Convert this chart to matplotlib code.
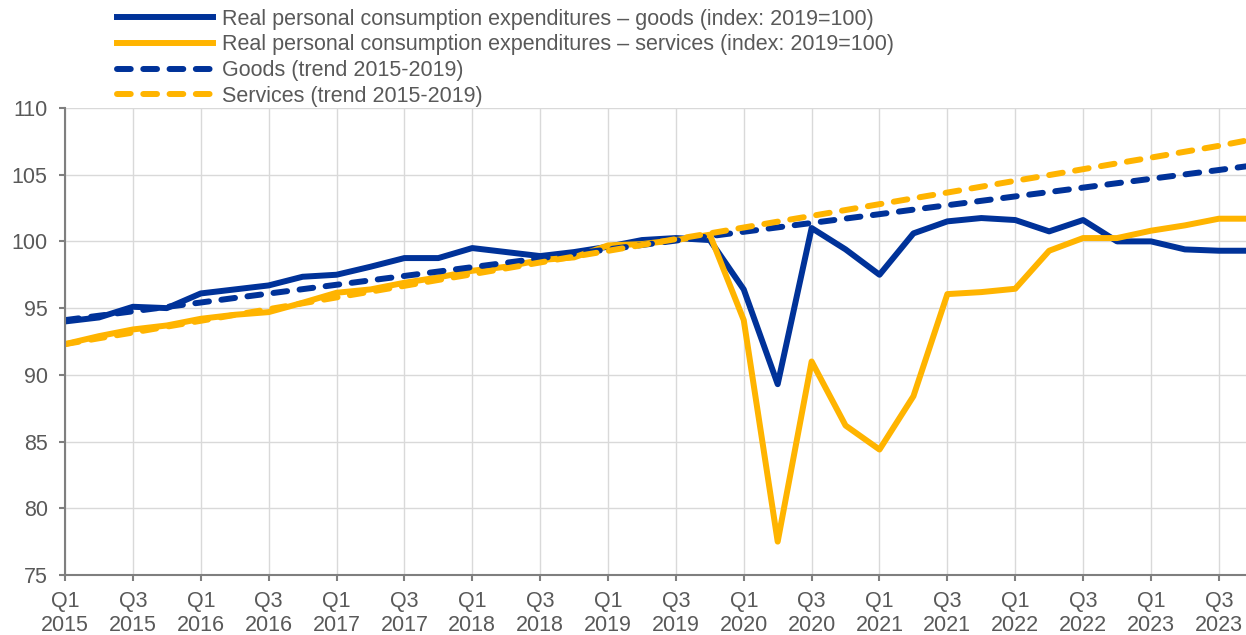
import numpy as np
import matplotlib.pyplot as plt

plt.rcParams['font.family'] = ['Liberation Sans', 'DejaVu Sans']

years = list(range(2015, 2024))
quarters = [f"Q{q}\n{y}" for y in years for q in (1, 2, 3, 4)]

goods = [94.0, 94.3, 95.1, 95.0, 96.1, 96.4, 96.7, 97.35, 97.5, 98.1,
         98.75, 98.75, 99.5, 99.2, 98.9, 99.2, 99.6, 100.1, 100.25, 100.1,
         96.4, 89.3, 101.0, 99.4, 97.5, 100.6, 101.5, 101.75, 101.6, 100.75,
         101.6, 100.0, 100.0, 99.4, 99.3, 99.3]
services = [92.3, 92.9, 93.4, 93.7, 94.2, 94.5, 94.7, 95.4, 96.15, 96.4,
            96.9, 97.3, 97.8, 98.1, 98.6, 98.8, 99.7, 99.8, 100.1, 100.5,
            94.1, 77.5, 91.0, 86.2, 84.4, 88.4, 96.05, 96.2, 96.45, 99.3,
            100.25, 100.25, 100.8, 101.2, 101.7, 101.7]
goods_trend = [94.10, 94.43, 94.76, 95.09, 95.42, 95.76, 96.09, 96.42, 96.75,
               97.08, 97.41, 97.74, 98.07, 98.40, 98.73, 99.07, 99.40, 99.73,
               100.06, 100.39, 100.72, 101.05, 101.38, 101.71, 102.04, 102.38,
               102.71, 103.04, 103.37, 103.70, 104.03, 104.36, 104.69, 105.02,
               105.35, 105.69]
services_trend = [92.30, 92.74, 93.17, 93.61, 94.05, 94.49, 94.92, 95.36, 95.80,
                  96.23, 96.67, 97.11, 97.54, 97.98, 98.42, 98.86, 99.29, 99.73,
                  100.17, 100.60, 101.04, 101.48, 101.91, 102.35, 102.79, 103.23,
                  103.66, 104.10, 104.54, 104.97, 105.41, 105.85, 106.28, 106.72,
                  107.16, 107.65]

blue = '#003299'
yellow = '#FFB400'
grey = '#595959'
fs = 15.5

fig = plt.figure(figsize=(12.46, 6.35), dpi=100)
ax = fig.add_axes([0.0522, 0.0945, 0.9478, 0.7355])

x = np.arange(len(quarters))
ax.plot(x, goods, color=blue, lw=4.3,
        label='Real personal consumption expenditures \u2013 goods (index: 2019=100)')
ax.plot(x, services, color=yellow, lw=4.3,
        label='Real personal consumption expenditures \u2013 services (index: 2019=100)')
ax.plot(x, goods_trend, color=blue, lw=4.3, dashes=(2.3, 2.1),
        dash_capstyle='round', label='Goods (trend 2015-2019)')
ax.plot(x, services_trend, color=yellow, lw=4.3, dashes=(2.3, 2.1),
        dash_capstyle='round', label='Services (trend 2015-2019)')

ax.set_xlim(0, 34.8)
ax.set_ylim(75, 110)
ax.set_yticks(range(75, 111, 5))
ax.set_xticks(x[::2])
ax.set_xticklabels(quarters[::2], linespacing=1.2)

ax.grid(True, color='#d9d9d9', lw=1.0)
ax.set_axisbelow(True)
for s in ('top', 'right'):
    ax.spines[s].set_visible(False)
for s in ('left', 'bottom'):
    ax.spines[s].set_color('#7f7f7f')
    ax.spines[s].set_linewidth(1.5)
ax.tick_params(axis='both', colors='#7f7f7f', labelcolor=grey, labelsize=fs,
               length=4.5, width=1.5)
ax.tick_params(axis='y', pad=8)
ax.tick_params(axis='x', pad=7)

fig.legend(loc='upper left', bbox_to_anchor=(0.0939, 0.9865), frameon=False,
           fontsize=fs, handlelength=4.45, handletextpad=0.42,
           labelspacing=0.22, labelcolor=grey, borderaxespad=0, borderpad=0)

fig.savefig('out.png', dpi=100)
